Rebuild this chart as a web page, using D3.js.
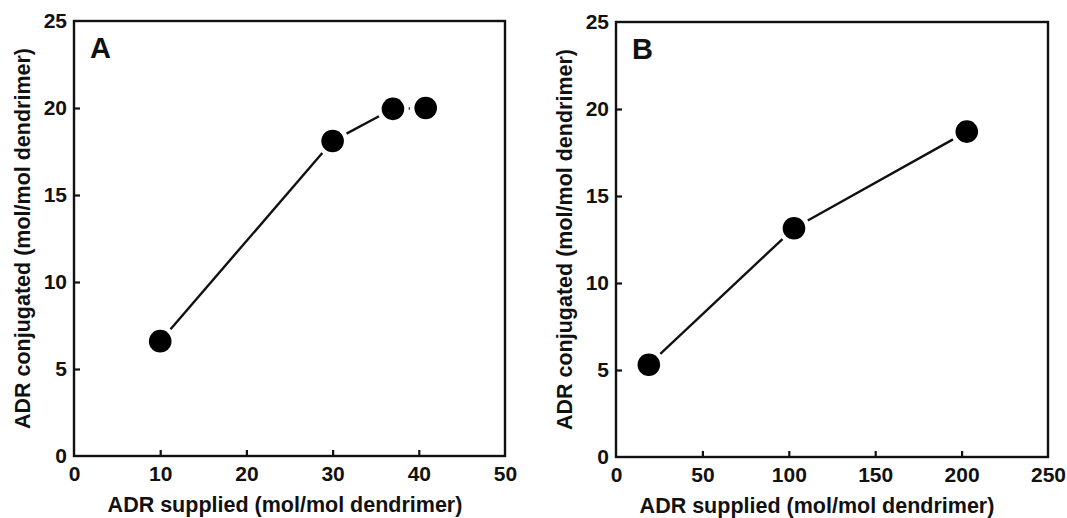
<!DOCTYPE html>
<html>
<head>
<meta charset="utf-8">
<script src="https://cdn.jsdelivr.net/npm/d3@7"></script>
<style>
  html, body { margin: 0; padding: 0; background: #fff; }
  svg { display: block; }
  text { font-family: "Liberation Sans", Arial, sans-serif; font-weight: bold; fill: #111; }
</style>
</head>
<body>
<svg id="chart" width="1067" height="518"></svg>
<script>
// ---- data ----
const panelALabel = "A";
const panelASupplied = [10, 30, 37, 40.8];
const panelAConjugated = [6.6, 18.1, 19.95, 20.0];
const panelAXTicks = [0, 10, 20, 30, 40, 50];

const panelBLabel = "B";
const panelBSupplied = [19, 103, 203];
const panelBConjugated = [5.3, 13.15, 18.7];
const panelBXTicks = [0, 50, 100, 150, 200, 250];

const yTicks = [0, 5, 10, 15, 20, 25];
const xTitle = "ADR supplied (mol/mol dendrimer)";
const yTitle = "ADR conjugated (mol/mol dendrimer)";

// ---- drawing ----
const svg = d3.select("#chart");
svg.append("rect").attr("width", 1067).attr("height", 518).attr("fill", "#fff");

const tickFont = 21;
const titleFont = 21.5;
const FONT = "Liberation Sans, Arial, sans-serif";

function drawPanel(cfg) {
  const { left, right, top, bottom, xs, ys, xTicks, label, yTitleX, xTitleX } = cfg;
  const x = d3.scaleLinear().domain([xTicks[0], xTicks[xTicks.length - 1]]).range([left, right]);
  const y = d3.scaleLinear().domain([yTicks[0], yTicks[yTicks.length - 1]]).range([bottom, top]);
  const g = svg.append("g");

  // frame
  g.append("rect")
    .attr("x", left).attr("y", top)
    .attr("width", right - left).attr("height", bottom - top)
    .attr("fill", "none").attr("stroke", "#111").attr("stroke-width", 2.4);

  // x axis ticks (inward) and labels
  const xAxis = d3.axisBottom(x).tickValues(xTicks).tickSizeInner(-6).tickSizeOuter(0).tickPadding(10)
    .tickFormat(d3.format("d"));
  const xg = g.append("g").attr("transform", `translate(0,${bottom})`).call(xAxis);
  xg.attr("font-size", tickFont).attr("font-family", FONT);
  xg.select(".domain").remove();
  xg.selectAll(".tick line").attr("stroke", "#111").attr("stroke-width", 2.2)
    .attr("opacity", (d, i) => (i === 0 || i === xTicks.length - 1) ? 0 : 1);
  xg.selectAll(".tick text").attr("font-size", tickFont).attr("font-family", FONT)
    .attr("font-weight", "bold").attr("fill", "#111");

  // y axis ticks (inward) and labels
  const yAxis = d3.axisLeft(y).tickValues(yTicks).tickSizeInner(-6).tickSizeOuter(0).tickPadding(7)
    .tickFormat(d3.format("d"));
  const yg = g.append("g").attr("transform", `translate(${left},0)`).call(yAxis);
  yg.attr("font-size", tickFont).attr("font-family", FONT);
  yg.select(".domain").remove();
  yg.selectAll(".tick line").attr("stroke", "#111").attr("stroke-width", 2.2)
    .attr("opacity", (d, i) => (i === 0 || i === yTicks.length - 1) ? 0 : 1);
  yg.selectAll(".tick text").attr("font-size", tickFont).attr("font-family", FONT)
    .attr("font-weight", "bold").attr("fill", "#111");

  // titles
  g.append("text")
    .attr("x", xTitleX).attr("y", bottom + 56)
    .attr("text-anchor", "middle").attr("font-size", titleFont)
    .text(xTitle);
  g.append("text")
    .attr("transform", `translate(${yTitleX},${(top + bottom) / 2}) rotate(-90)`)
    .attr("text-anchor", "middle").attr("font-size", titleFont)
    .attr("dy", "0.35em")
    .text(yTitle);

  // panel letter
  g.append("text")
    .attr("x", left + 16).attr("y", top + 37)
    .attr("font-size", 29)
    .text(label);

  // connecting line segments with gaps around markers
  const r = 11.3, gap = 4.5;
  const pts = xs.map((v, i) => [x(v), y(ys[i])]);
  for (let i = 0; i < pts.length - 1; i++) {
    const [x1, y1] = pts[i], [x2, y2] = pts[i + 1];
    const dx = x2 - x1, dy = y2 - y1, len = Math.hypot(dx, dy);
    const cut = r + gap;
    if (len > 2 * cut) {
      const ux = dx / len, uy = dy / len;
      g.append("line")
        .attr("x1", x1 + ux * cut).attr("y1", y1 + uy * cut)
        .attr("x2", x2 - ux * cut).attr("y2", y2 - uy * cut)
        .attr("stroke", "#111").attr("stroke-width", 2.4);
    }
  }
  g.selectAll("circle.pt").data(pts).enter().append("circle")
    .attr("class", "pt")
    .attr("cx", d => d[0]).attr("cy", d => d[1]).attr("r", r)
    .attr("fill", "#000");
}

drawPanel({
  left: 74, right: 505, top: 21, bottom: 456,
  xs: panelASupplied, ys: panelAConjugated, xTicks: panelAXTicks,
  label: panelALabel, yTitleX: 22, xTitleX: 285
});
drawPanel({
  left: 616, right: 1048, top: 22, bottom: 457,
  xs: panelBSupplied, ys: panelBConjugated, xTicks: panelBXTicks,
  label: panelBLabel, yTitleX: 564, xTitleX: 817
});
</script>
</body>
</html>
